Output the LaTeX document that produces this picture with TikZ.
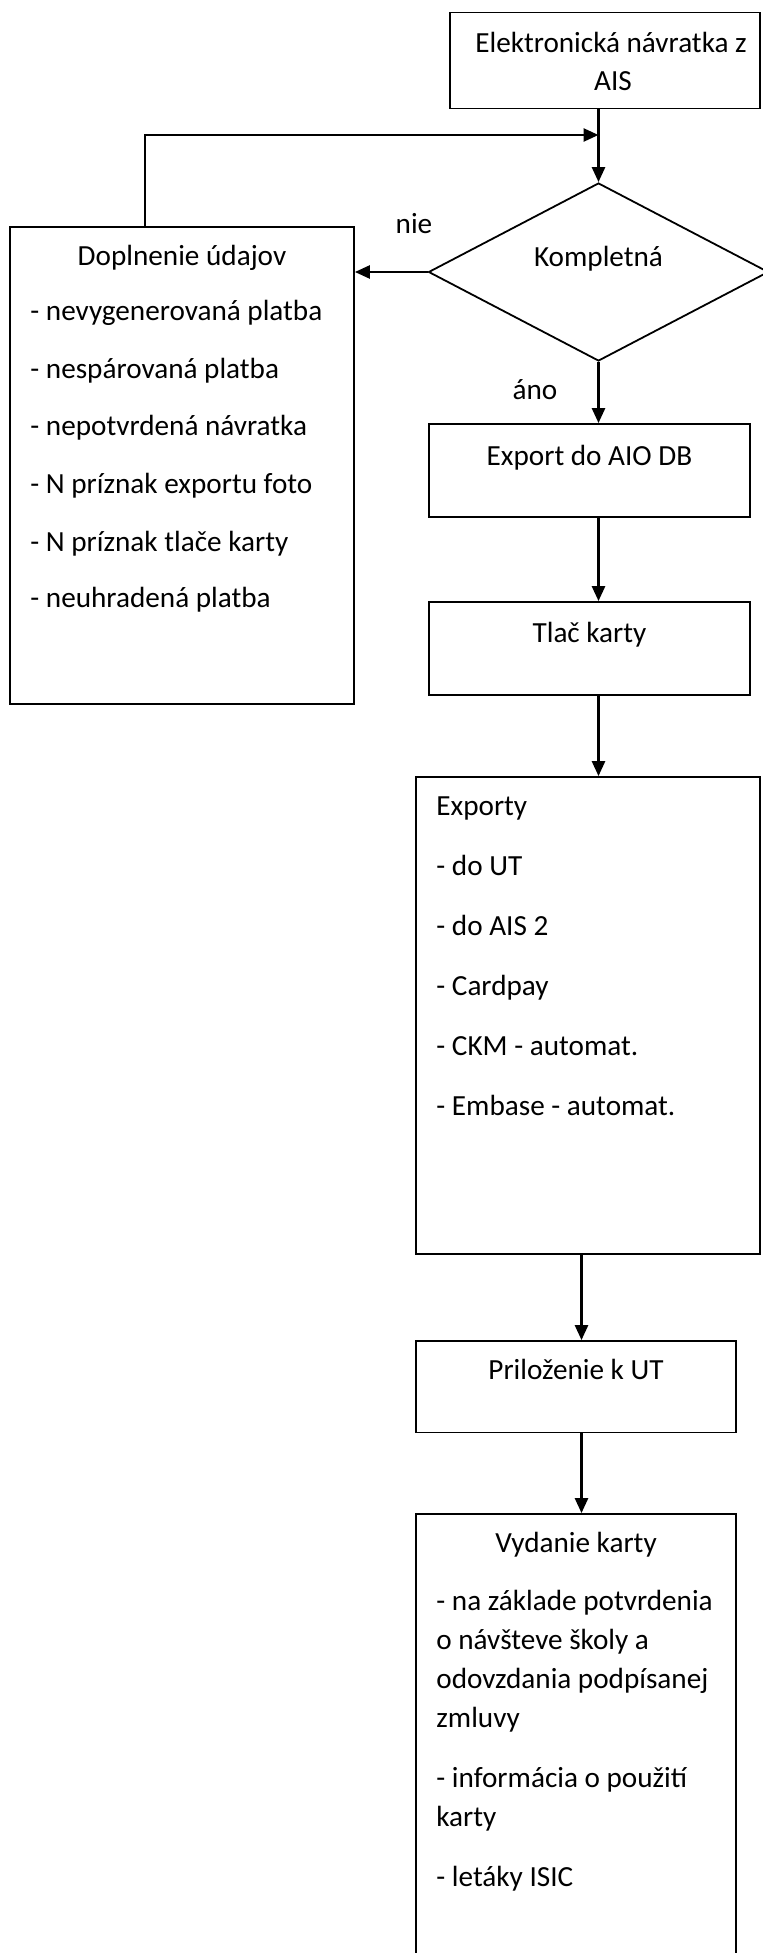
\documentclass[tikz,border=0pt]{standalone}
\usepackage{fontspec}
\setmainfont{Carlito}
\usetikzlibrary{arrows.meta,shapes.geometric}
\begin{document}
\begin{tikzpicture}[x=0.5pt,y=-0.5pt,
  box/.style={draw,line width=0.9pt,inner sep=0pt,rectangle},
  conn/.style={line width=1.3pt,-{Triangle[length=7.5pt,width=6.5pt]}},
  txt/.style={inner sep=0pt,font=\fontsize{14.6}{19.45}\selectfont},
  lt/.style={txt,anchor=base west},
  ct/.style={txt,anchor=base}]
\useasboundingbox (0,0) rectangle (763,1953);
% boxes
\node[box,minimum width=155pt,minimum height=48pt] (ais) at (605,60.5) {};
\node[draw,line width=0.9pt,diamond,inner sep=0pt,minimum width=170pt,minimum height=89pt] (dia) at (598.5,272) {};
\node[box,minimum width=172pt,minimum height=238.65pt] (dop) at (182,465.35) {};
\node[box,minimum width=160.5pt,minimum height=46.5pt] (exp) at (589.5,470.5) {};
\node[box,minimum width=160.5pt,minimum height=46.5pt] (tlac) at (589.5,648.5) {};
\node[box,minimum width=172pt,minimum height=238.5pt] (expy) at (588,1015.5) {};
\node[box,minimum width=160pt,minimum height=45.75pt] (pril) at (576,1386.75) {};
\node[box,minimum width=160pt,minimum height=225.5pt] (vyd) at (576,1739.5) {};
% texts
\node[ct] (t1) at (611,53) {Elektronická návratka z};
\node[ct] (t2) at (613,91) {AIS};
\node[ct] (tk) at (598.5,266) {Kompletná};
\node[ct] (tnie) at (414,234) {nie};
\node[ct] (tano) at (535,399) {áno};
\node[ct] (td) at (182,265) {Doplnenie údajov};
\node[lt] (d1) at (30,321) {- nevygenerovaná platba};
\node[lt] (d2) at (30,378) {- nespárovaná platba};
\node[lt] (d3) at (30,435) {- nepotvrdená návratka};
\node[lt] (d4) at (30,493) {- N príznak exportu foto};
\node[lt] (d5) at (30,551) {- N príznak tlače karty};
\node[lt] (d6) at (30,607) {- neuhradená platba};
\node[ct] (te) at (589.5,465) {Export do AIO DB};
\node[ct] (tt) at (589.5,642) {Tlač karty};
\node[lt] (e0) at (436,815) {Exporty};
\node[lt] (e1) at (436,875) {- do UT};
\node[lt] (e2) at (436,935) {- do AIS 2};
\node[lt] (e3) at (436,995) {- Cardpay};
\node[lt] (e4) at (436,1055) {- CKM - automat.};
\node[lt] (e5) at (436,1115) {- Embase - automat.};
\node[ct] (tp) at (576,1379) {Priloženie k UT};
\node[ct] (tv) at (576,1552) {Vydanie karty};
\node[lt] (v1a) at (436,1610) {- na základe potvrdenia};
\node[lt] (v1b) at (436,1649) {o návšteve školy a};
\node[lt] (v1c) at (436,1688) {odovzdania podpísanej};
\node[lt] (v1d) at (436,1727) {zmluvy};
\node[lt] (v2a) at (436,1787) {- informácia o použití};
\node[lt] (v2b) at (436,1826) {karty};
\node[lt] (v3) at (436,1886) {- letáky ISIC};
% connectors
\coordinate (fbx) at (145,0);
\coordinate (fbtop) at (598.5,135);
\coordinate (lowx) at (581.5,0);
\draw[conn] (ais.south -| dia.north) -- (dia.north);
\draw[conn] (dop.north -| fbx) |- (fbtop);
\draw[conn] (dia.west) -- (dia.west -| dop.east);
\draw[conn] (dia.south) -- (dia.south |- exp.north);
\draw[conn] (exp.south -| dia.south) -- (tlac.north -| dia.south);
\draw[conn] (tlac.south -| dia.south) -- (expy.north -| dia.south);
\draw[conn] (expy.south -| lowx) -- (pril.north -| lowx);
\draw[conn] (pril.south -| lowx) -- (vyd.north -| lowx);
\end{tikzpicture}
\end{document}
